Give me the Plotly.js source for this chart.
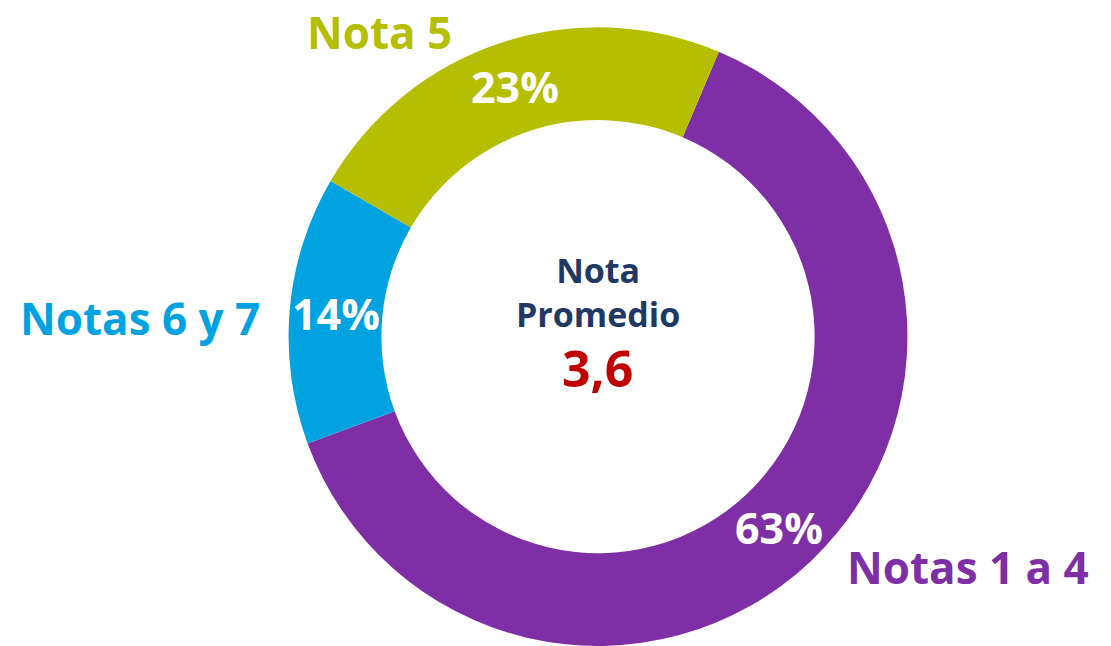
<!DOCTYPE html>
<html>
<head>
<meta charset="utf-8">
<script src="https://cdn.plot.ly/plotly-3.0.1.min.js"></script>
<style>html,body{margin:0;padding:0;background:#fff;}#chart{width:1111px;height:646px;}</style>
</head>
<body>
<div id="chart"></div>
<script>
// Data
const categories = ["Notas 1 a 4", "Notas 6 y 7", "Nota 5"];
const values = [63, 14, 23];
const colors = ["#7F2FA5", "#00A3E0", "#B5BE00"];
const centerTitle = "Nota<br>Promedio";
const centerValue = "3,6";

const FONT = "Open Sans, Lato, DejaVu Sans, sans-serif";
const W = 1111, H = 646;
const ROT = 23, HOLE = 0.7;
const DOM = { x: [0.2597, 0.8168], y: [0, 0.958] };

const trace = {
  type: "pie",
  labels: categories,
  values: values,
  sort: false,
  direction: "clockwise",
  rotation: ROT,
  hole: HOLE,
  marker: { colors: colors, line: { width: 0 } },
  textinfo: "none",
  showlegend: false,
  domain: DOM,
  hoverinfo: "label+percent"
};

// percentage labels placed at the middle of each ring segment (derived from the values)
const total = values.reduce((a, b) => a + b, 0);
const cx = (DOM.x[0] + DOM.x[1]) / 2 * W;
const cy = H - (DOM.y[0] + DOM.y[1]) / 2 * H;
const R = Math.min((DOM.x[1] - DOM.x[0]) * W, (DOM.y[1] - DOM.y[0]) * H) / 2;
const rMid = R * (1 + HOLE) / 2;

const annotations = [];
let cum = 0;
values.forEach((v) => {
  const th = (ROT + 360 * (cum + v / 2) / total) * Math.PI / 180;
  cum += v;
  const px = cx + rMid * Math.sin(th);
  const py = cy - rMid * Math.cos(th);
  annotations.push({
    text: Math.round(v / total * 100) + "%",
    xref: "paper", yref: "paper",
    x: px / W, y: 1 - py / H,
    xanchor: "center", yanchor: "middle",
    showarrow: false,
    font: { family: FONT, size: 43, color: "#ffffff", weight: 700 }
  });
});

const labelPos = [
  { x: 0.7606, y: 0.1223, xanchor: "left", yanchor: "middle" },
  { x: 0.2358, y: 0.5077, xanchor: "right", yanchor: "middle" },
  { x: 0.342, y: 1.0, xanchor: "center", yanchor: "top" }
];

categories.forEach((c, i) => annotations.push({
  text: c,
  xref: "paper", yref: "paper",
  x: labelPos[i].x, y: labelPos[i].y,
  xanchor: labelPos[i].xanchor, yanchor: labelPos[i].yanchor,
  showarrow: false,
  font: { family: FONT, size: 44, color: colors[i], weight: 700 }
}));

annotations.push({
  text: centerTitle,
  xref: "paper", yref: "paper",
  x: cx / W, y: 1 - 292 / H,
  xanchor: "center", yanchor: "middle",
  showarrow: false,
  font: { family: FONT, size: 34, color: "#1F3864", weight: 700 }
});
annotations.push({
  text: centerValue,
  xref: "paper", yref: "paper",
  x: cx / W, y: 1 - 368 / H,
  xanchor: "center", yanchor: "middle",
  showarrow: false,
  font: { family: FONT, size: 50, color: "#C00000", weight: 700 }
});

const layout = {
  width: W, height: H,
  margin: { l: 0, r: 0, t: 0, b: 0 },
  paper_bgcolor: "#ffffff",
  plot_bgcolor: "#ffffff",
  annotations: annotations
};

Plotly.newPlot("chart", [trace], layout, { displayModeBar: false, staticPlot: true });
</script>
</body>
</html>
